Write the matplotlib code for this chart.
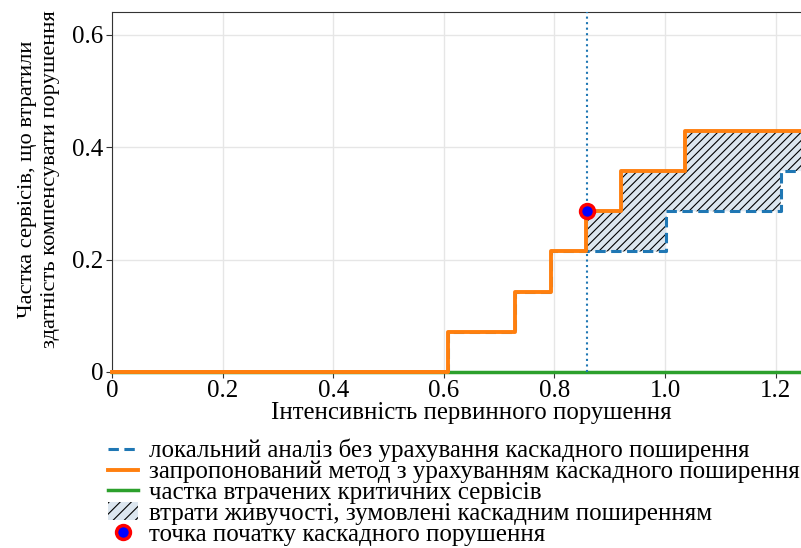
import matplotlib
matplotlib.use("Agg")
import matplotlib.pyplot as plt
import numpy as np
from matplotlib.patches import Patch
from matplotlib.lines import Line2D

plt.rcParams['font.family'] = ['Liberation Serif', 'DejaVu Serif']
plt.rcParams['hatch.linewidth'] = 0.8

# Data (step functions: value holds from x[i] to x[i+1])
x_prop = [0.0, 0.608, 0.729, 0.793, 0.857, 0.920, 1.036, 1.30]
y_prop = [0.0, 1/14, 2/14, 3/14, 4/14, 5/14, 6/14, 6/14]

x_local = [0.0, 0.608, 0.729, 0.793, 1.002, 1.209, 1.30]
y_local = [0.0, 1/14, 2/14, 3/14, 4/14, 5/14, 5/14]

x_crit = [0.0, 1.30]
y_crit = [0.0, 0.0]

cascade_x = 0.858
cascade_y = 4/14

xticks = [0, 0.2, 0.4, 0.6, 0.8, 1.0, 1.2]
xtick_labels = ["0", "0.2", "0.4", "0.6", "0.8", "1.0", "1.2"]
yticks = [0, 0.2, 0.4, 0.6]
ytick_labels = ["0", "0.2", "0.4", "0.6"]

labels = [
    "локальний аналіз без урахування каскадного поширення",
    "запропонований метод з урахуванням каскадного поширення",
    "частка втрачених критичних сервісів",
    "втрати живучості, зумовлені каскадним поширенням",
    "точка початку каскадного порушення",
]

BLUE = '#1f77b4'
ORANGE = '#ff7f0e'
GREEN = '#2ca02c'
FILL = '#dce6ef'
DASH = (0, (3.4, 1.8))

fig = plt.figure(figsize=(8.01, 5.48), dpi=100)
ax = fig.add_axes([112/801, (548-372)/548, 719/801, 360/548])

ax.grid(True, color='#e6e6e6', linewidth=1.0)
ax.set_axisbelow(True)

# fill region between local and proposed after cascade point
xf = np.linspace(cascade_x, 1.30, 2000)
def step_eval(xs, ys, q):
    idx = np.searchsorted(xs, q, side='right') - 1
    return np.array(ys)[np.clip(idx, 0, len(ys)-1)]
yp = step_eval(x_prop, y_prop, xf)
yl = step_eval(x_local, y_local, xf)
ax.fill_between(xf, yl, yp, facecolor=FILL, edgecolor='black', hatch='////',
                linewidth=0, zorder=2)

ax.plot(x_crit, y_crit, color=GREEN, lw=2.5, zorder=3, clip_on=False)
ax.step(x_local, y_local, where='post', color=BLUE, lw=2.2, ls=DASH, zorder=4)
ax.step(x_prop, y_prop, where='post', color=ORANGE, lw=2.8, zorder=5, clip_on=False)
ax.plot([x_crit[0], 0.607], [0.002, 0.002], color=ORANGE, lw=2.0, zorder=6, clip_on=False)
ax.axvline(cascade_x, color=BLUE, ls=':', lw=1.5, zorder=3)
ax.plot([cascade_x], [cascade_y], 'o', ms=10, mfc='#0000ff', mec='#ff0000', mew=2.5, zorder=7)

ax.set_xlim(0, 1.30)
ax.set_ylim(0, 0.64)
ax.set_xticks(xticks)
ax.set_xticklabels(xtick_labels)
ax.set_yticks(yticks)
ax.set_yticklabels(ytick_labels)
ax.tick_params(labelsize=18, color='#333333', length=4, pad=2)
for s in ax.spines.values():
    s.set_color('#333333')

ax.set_xlabel("Інтенсивність первинного порушення", fontsize=17.8, labelpad=0)
ax.set_ylabel("Частка сервісів, що втратили\nздатність компенсувати порушення", fontsize=16.2,
              linespacing=1.3)
ax.yaxis.set_label_coords(-0.072, 0.535)

handles = [
    Line2D([], [], color=BLUE, lw=2.2, ls=DASH),
    Line2D([], [], color=ORANGE, lw=2.8),
    Line2D([], [], color=GREEN, lw=2.5),
    Patch(facecolor=FILL, edgecolor='black', hatch='///', linewidth=0),
    Line2D([], [], ls='none', marker='o', ms=10, mfc='#0000ff', mec='#ff0000', mew=2.5),
]
fig.legend(handles, labels, loc='upper left', bbox_to_anchor=(108/801, 1 - 439/548),
           frameon=False, fontsize=18, handlelength=1.2, handletextpad=0.45,
           labelspacing=-0.07, borderaxespad=0, borderpad=0)

fig.savefig("out.png", dpi=100)
